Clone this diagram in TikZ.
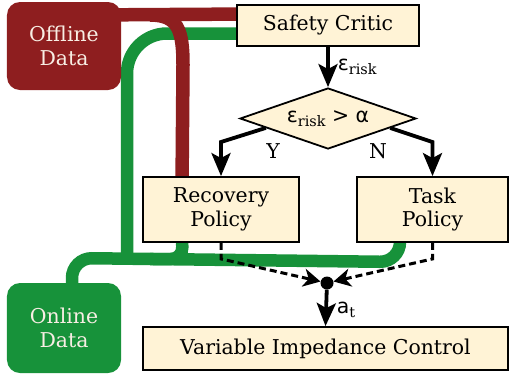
\documentclass[tikz,border=0pt]{standalone}
\usepackage{fontspec}
\setmainfont{DejaVu Serif}
\newfontfamily\symfont{DejaVu Sans}
\usetikzlibrary{shapes.geometric,arrows.meta,calc,backgrounds}
\definecolor{cream}{HTML}{FFF3D6}
\definecolor{dred}{HTML}{8E1E1F}
\definecolor{dgreen}{HTML}{17923A}
\definecolor{paletext}{HTML}{F8EEE4}
\newcommand{\mainsz}{\fontsize{20.5}{23.5}\selectfont}
\newcommand{\mysub}[1]{\raisebox{-0.35ex}{\fontsize{14.5}{16}\selectfont #1}}
\tikzset{
  box/.style={draw=black, line width=1.8bp, fill=cream, inner sep=0pt, align=center, font=\mainsz},
  databox/.style={rounded corners=13bp, inner sep=0pt, align=center, font=\mainsz, text=paletext},
  arr/.style={line width=3.8bp, -{Stealth[length=23bp,width=19bp,inset=5bp]}},
  dline/.style={line width=3bp, dash pattern=on 7bp off 4bp, -{Stealth[length=17bp,width=18bp,inset=5bp]}},
  gline/.style={line width=12.5bp, draw=dgreen},
  rline/.style={line width=13.5bp, draw=dred},
  lbl/.style={font=\mainsz, inner sep=1bp}
}
\begin{document}
\begin{tikzpicture}[x=1bp,y=-1bp]
\useasboundingbox (0,0) rectangle (510,378);
% data sources
\node[databox, fill=dred, minimum width=114bp, minimum height=88bp] (off) at (64,46) {Offline\\Data};
\node[databox, fill=dgreen, minimum width=114bp, minimum height=90bp] (on) at (64,328) {Online\\Data};
% main nodes
\node[box, minimum width=182bp, minimum height=41bp] (sc) at (328,25.5) {Safety Critic};
\node[box, shape=diamond, aspect=2.885, minimum width=176bp, minimum height=61bp] (dm) at (328,118.5) {{\symfont ε}\mysub{risk} {\symfont > α}};
\node[box, minimum width=156bp, minimum height=65bp] (rp) at (221,209.5) {Recovery\\Policy};
\node[box, minimum width=151bp, minimum height=65bp] (tp) at (432.5,209.5) {Task\\Policy};
\node[box, minimum width=365bp, minimum height=43bp] (vic) at (325.5,348.5) {Variable Impedance Control};
\node[circle, fill=black, minimum size=13bp, inner sep=0pt] (dot) at (327,283) {};
% coordinates
\coordinate (gj) at (127,259);
\coordinate (gj2) at (150,259);
\coordinate (rj) at (150,15);
\coordinate (yb) at (221,142);
\coordinate (nb) at (432.5,142);
\begin{scope}[on background layer]
  % green data flow
  \draw[gline, rounded corners=40bp] ($(sc.west)+(0,8)$) -- (127,33.5) -- (gj);
  \draw[gline, rounded corners=20bp] ($(on.north)+(8,1)$) -- (72,258) -- (400,262) -- ($(tp.south)+(-32.5,0)$);
  \draw[gline, rounded corners=12bp] ($(rp.south west)+(40,0)$) -- (183,259) -- (gj2);
  % red data flow
  \draw[rline] ($(off.north east)+(-2,13)$) -- ($(sc.north west)+(0,10)$);
  \draw[rline] (rj) .. controls (178,15) and (183,30) .. (183,65) -- ($(rp.north west)+(40,0)$);
\end{scope}
% decision arrows
\draw[arr] (sc) -- (dm) node[pos=0.5, right, lbl, xshift=7bp] {{\symfont ε}\mysub{risk}};
\draw[arr] ($(dm.west)!0.3!(dm.south)$) -- (yb) -- (rp.north);
\draw[arr] ($(dm.east)!0.3!(dm.south)$) -- (nb) -- (tp.north);
\node[lbl] (ylab) at (273,151) {Y};
\node[lbl] (nlab) at (378,151) {N};
% action merge
\draw[dline] (rp.south) -- ++(0,16) -- (dot);
\draw[dline] (tp.south) -- ++(0,16) -- (dot);
\draw[arr] (dot) -- (vic.north) node[pos=0.55, right, lbl, xshift=8bp] {{\symfont a}\mysub{t}};
\end{tikzpicture}
\end{document}
